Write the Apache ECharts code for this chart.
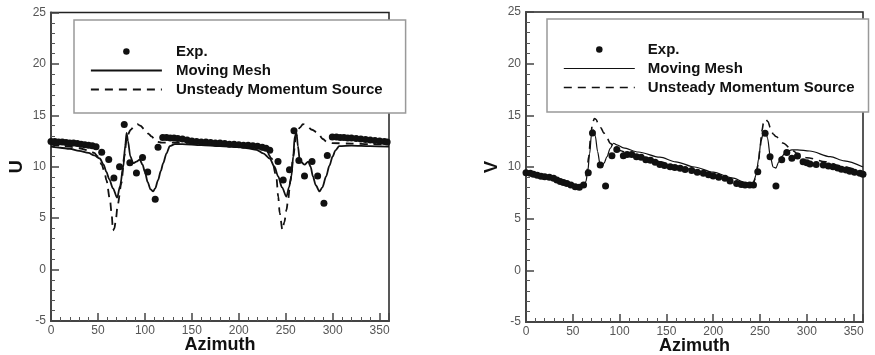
<!DOCTYPE html>
<html><head><meta charset="utf-8">
<script src="https://cdn.jsdelivr.net/npm/echarts@6/dist/echarts.min.js"></script>
<style>html,body{margin:0;padding:0;background:#fff}#c{width:875px;height:355px}</style>
</head><body><div id="c"></div>
<script>
// ---------- tick labels ----------
const xTicks = [0, 50, 100, 150, 200, 250, 300, 350];
const xMax = 360;
const yTicks = [-5, 0, 5, 10, 15, 20, 25];

// ---------- Left panel: U ----------
const uExpAz  = [0,4,8,12,16,20,24,28,32,36,40,44,48,54,61.5,67,73,78,84,91,97.5,103,111,114,119,123,127,131,135,140,145,150,155,160,165,170,175,180,185,190,195,200,205,210,215,220,225,229,233,241.8,247.3,254,258.8,264,270,278,284,290.7,294.3,299.6,304,308,312,316,320,325,330,335,340,345,350,355,358];
const uExpVal = [12.45,12.45,12.4,12.4,12.35,12.3,12.3,12.25,12.2,12.15,12.1,12.05,11.95,11.4,10.7,8.9,10.0,14.1,10.4,9.4,10.9,9.5,6.85,11.9,12.85,12.85,12.8,12.8,12.75,12.7,12.6,12.5,12.45,12.4,12.4,12.35,12.3,12.3,12.25,12.2,12.2,12.15,12.1,12.1,12.05,12.0,11.9,11.8,11.6,10.5,8.7,9.7,13.5,10.6,9.1,10.5,9.1,6.45,11.1,12.9,12.9,12.85,12.85,12.8,12.8,12.75,12.7,12.65,12.6,12.55,12.5,12.45,12.4];

const uMeshAz  = [0,10,20,30,40,46,52,56,59,62,66,70.5,73.5,77,79,80.5,82,84.5,87.5,91,94.5,97.5,100,103,106,108.8,111,114,117,119.5,123,126.5,132,140,160,180,200,210,218.8,226,233,238,242,246,250.8,253.5,256,258,259.6,261.5,263,265,270,274,276.5,279,282,286,289,293,296.5,300,303,307,320,340,360];
const uMeshVal = [11.95,11.85,11.75,11.55,11.35,11.1,10.8,10.2,9.5,8.8,7.9,7.0,8.1,10.0,12.0,13.3,12.5,11.0,10.35,10.5,10.7,10.2,9.5,8.5,7.8,7.6,7.9,8.7,9.6,10.35,11.3,12.0,12.2,12.2,12.1,12.0,11.9,11.8,11.65,11.3,10.8,10.0,9.05,8.0,7.1,8.0,9.05,11.0,12.95,13.3,12.0,10.6,10.2,10.5,10.0,9.05,8.2,7.6,8.0,9.05,10.1,11.0,11.6,12.0,12.05,12.0,11.95];

const uUmsAz  = [0,10,20,30,40,46,50,54,57,59,62.8,64.5,66,67.5,69,71,75,78,81,85,89,92,95,100,104,107,112,118,130,150,180,210,222,230,235,240,242,243.6,246.5,248.5,250.8,252.5,255,258,261,265,268.4,272,278,284,289.6,294,300,320,340,360];
const uUmsVal = [12.15,12.05,11.95,11.8,11.6,11.35,11.0,10.2,9.5,8.7,6.8,5.5,3.8,4.0,4.8,6.3,8.4,11.0,13.0,13.6,14.0,14.15,14.0,13.6,13.2,12.95,12.45,12.35,12.35,12.3,12.2,12.0,11.8,11.4,10.8,9.05,7.1,5.5,3.85,4.6,5.8,6.8,8.6,11.0,13.0,13.8,14.15,14.0,13.6,13.3,12.7,12.4,12.3,12.25,12.2,12.15];

// ---------- Right panel: V ----------
const vExpAz  = [0,4.6,8,12,16,20,25,29.5,33,36.6,40,43.7,48,52.6,57,61.5,66.5,71,79.3,85,91.8,97,104,108,113,118,123,128,133,138,143,148,154,159,164.7,170,177,183,189.5,195,200,206,212.6,218,225,230,234,239,243,247.6,255.4,260.7,267,273.2,278.6,284,290,296,300,303.4,310,317.6,323,328,333,337,342,346,351,356.8,360];
const vExpVal = [9.45,9.4,9.3,9.2,9.1,9.05,9.0,8.9,8.75,8.6,8.5,8.4,8.25,8.1,8.05,8.25,9.45,13.3,10.2,8.15,11.1,11.7,11.1,11.2,11.2,11.0,10.95,10.7,10.65,10.45,10.25,10.15,10.03,9.95,9.88,9.75,9.65,9.5,9.4,9.25,9.13,9.0,8.9,8.65,8.4,8.3,8.25,8.25,8.25,9.55,13.27,11.0,8.16,10.7,11.4,10.85,11.07,10.5,10.4,10.3,10.25,10.2,10.1,10.03,9.9,9.78,9.7,9.6,9.5,9.4,9.3];

const vMeshAz  = [0,10,20,30,40,50,58,62,64,66,68,70,72,74,76.5,79,81,83.5,86.5,90,93.5,97,104,120,143,160,180,200,220,235,240,243,246,248.5,251,253.5,256,258,261,264,267,270,273,278,284,290,303,325,340,360];
const vMeshVal = [9.6,9.45,9.25,9.0,8.7,8.35,8.1,8.05,8.6,9.6,11.3,13.2,13.6,13.0,11.5,10.3,10.0,10.4,11.0,11.8,12.3,12.15,11.85,11.45,10.95,10.5,10.0,9.5,8.95,8.5,8.4,8.5,9.3,10.8,12.5,13.3,13.5,12.8,11.0,10.0,9.9,10.5,11.0,11.5,11.65,11.65,11.55,11.0,10.6,10.0];

const vUmsAz  = [0,20,40,55,60,63,65,67,69,71,73,75,77,80,83,86,90,95,100,110,125,143,160,180,200,220,235,242,245,248,250,252,254,256,258.5,261,264,267,275,284,290,300,320,340,360];
const vUmsVal = [9.5,9.1,8.6,8.2,8.05,8.5,9.5,11.0,12.8,14.2,14.7,14.6,14.2,13.8,13.3,12.9,12.3,11.8,11.6,11.3,10.95,10.5,10.1,9.7,9.25,8.75,8.35,8.25,8.9,10.2,11.8,13.5,14.4,14.6,14.4,13.8,13.2,12.95,12.3,11.65,11.3,10.9,10.5,10.0,9.5];

const NAMES = ['Exp.', 'Moving Mesh', 'Unsteady Momentum Source'];
const FONT = '"Liberation Sans", Arial, Helvetica, sans-serif';
const zip = (a, b) => a.map((v, i) => [v, b[i]]);
const DOT_ICON = 'path://M0,0M140,28M63.5,14a6.5,6.5 0 1,0 13,0a6.5,6.5 0 1,0 -13,0z';
const HIDE_SYM = {color: 'rgba(0,0,0,0)', borderColor: 'rgba(0,0,0,0)', borderWidth: 0, opacity: 0};

function xAxisCfg(gi) {
  return {
    gridIndex: gi, type: 'value', min: xTicks[0], max: xMax,
    interval: xTicks[1] - xTicks[0],
    name: 'Azimuth', nameLocation: 'middle', nameGap: 15, nameMoveOverlap: false,
    nameTextStyle: {fontSize: 18, fontWeight: 'bold', color: '#111', fontFamily: FONT},
    axisLine: {show: true, onZero: false, lineStyle: {color: '#444', width: 2}},
    axisTick: {show: true, inside: true, length: 8, lineStyle: {color: '#444', width: 1.5}},
    minorTick: {show: true, splitNumber: 5, length: 4, lineStyle: {color: '#555', width: 1}},
    splitLine: {show: false}, minorSplitLine: {show: false},
    axisLabel: {color: '#555', fontSize: 12, margin: 4, fontFamily: FONT, showMaxLabel: false}
  };
}
function yAxisCfg(gi, name) {
  return {
    gridIndex: gi, type: 'value', min: yTicks[0], max: yTicks[yTicks.length - 1],
    interval: yTicks[1] - yTicks[0],
    name: name, nameLocation: 'middle', nameGap: 25, nameRotate: 90, nameMoveOverlap: false,
    nameTextStyle: {fontSize: 18, fontWeight: 'bold', color: '#111', fontFamily: FONT},
    axisLine: {show: true, onZero: false, lineStyle: {color: '#444', width: 2}},
    axisTick: {show: true, inside: true, length: 8, lineStyle: {color: '#444', width: 1.5}},
    minorTick: {show: true, splitNumber: 5, length: 4, lineStyle: {color: '#555', width: 1}},
    splitLine: {show: false}, minorSplitLine: {show: false},
    axisLabel: {color: '#555', fontSize: 12, margin: 5, fontFamily: FONT}
  };
}
function legendCfg(left, top, padding, gapText, lw) {
  return {
    show: true, orient: 'vertical', left: left, top: top, padding: padding,
    itemWidth: 71, itemHeight: 14, itemGap: 4,
    backgroundColor: '#fff', borderColor: '#999', borderWidth: 1.5,
    selectedMode: false,
    textStyle: {fontSize: 15, fontWeight: 'bold', color: '#111', fontFamily: FONT, padding: [0, 0, 0, gapText]},
    data: [
      {name: NAMES[0], icon: DOT_ICON, itemStyle: {color: '#111', opacity: 1}},
      {name: NAMES[1], itemStyle: HIDE_SYM, lineStyle: {color: '#111', width: lw[0], type: 'solid'}},
      {name: NAMES[2], itemStyle: HIDE_SYM, lineStyle: {color: '#111', width: lw[1], type: [8, 6]}}
    ],
    z: 10
  };
}
function seriesFor(gi, expA, expV, meshA, meshV, umsA, umsV, lwMesh, lwUms) {
  return [
    {name: NAMES[0], type: 'scatter', xAxisIndex: gi, yAxisIndex: gi, data: zip(expA, expV),
     symbol: 'circle', symbolSize: 7, itemStyle: {color: '#111', opacity: 1}, z: 3},
    {name: NAMES[1], type: 'line', xAxisIndex: gi, yAxisIndex: gi, data: zip(meshA, meshV),
     showSymbol: false, symbol: 'none', smooth: 0.3, smoothMonotone: 'x',
     lineStyle: {color: '#111', width: lwMesh, type: 'solid'}, itemStyle: {color: '#111'}, z: 2},
    {name: NAMES[2], type: 'line', xAxisIndex: gi, yAxisIndex: gi, data: zip(umsA, umsV),
     showSymbol: false, symbol: 'none', smooth: 0.3, smoothMonotone: 'x',
     lineStyle: {color: '#111', width: lwUms, type: [8, 6]}, itemStyle: {color: '#111'}, z: 2}
  ];
}

const chart = echarts.init(document.getElementById('c'), null, {renderer: 'canvas'});
chart.setOption({
  animation: false,
  backgroundColor: '#fff',
  grid: [
    {left: 51, top: 12.5, width: 338, height: 308.5, show: true, borderColor: '#222', borderWidth: 1.5, backgroundColor: 'transparent', outerBoundsMode: 'none', containLabel: false},
    {left: 526, top: 12, width: 337, height: 310, show: true, borderColor: '#222', borderWidth: 1.5, backgroundColor: 'transparent', outerBoundsMode: 'none', containLabel: false}
  ],
  xAxis: [xAxisCfg(0), xAxisCfg(1)],
  yAxis: [yAxisCfg(0, 'U'), yAxisCfg(1, 'V')],
  legend: [
    legendCfg(74, 20, [24, 23, 16, 16], 9, [1.8, 1.8]),
    legendCfg(547, 19, [23, 14, 17, 16], 8, [1.2, 1.6])
  ],
  series: [].concat(
    seriesFor(0, uExpAz, uExpVal, uMeshAz, uMeshVal, uUmsAz, uUmsVal, 1.8, 1.8),
    seriesFor(1, vExpAz, vExpVal, vMeshAz, vMeshVal, vUmsAz, vUmsVal, 1.2, 1.6)
  )
});
</script>
</body></html>
